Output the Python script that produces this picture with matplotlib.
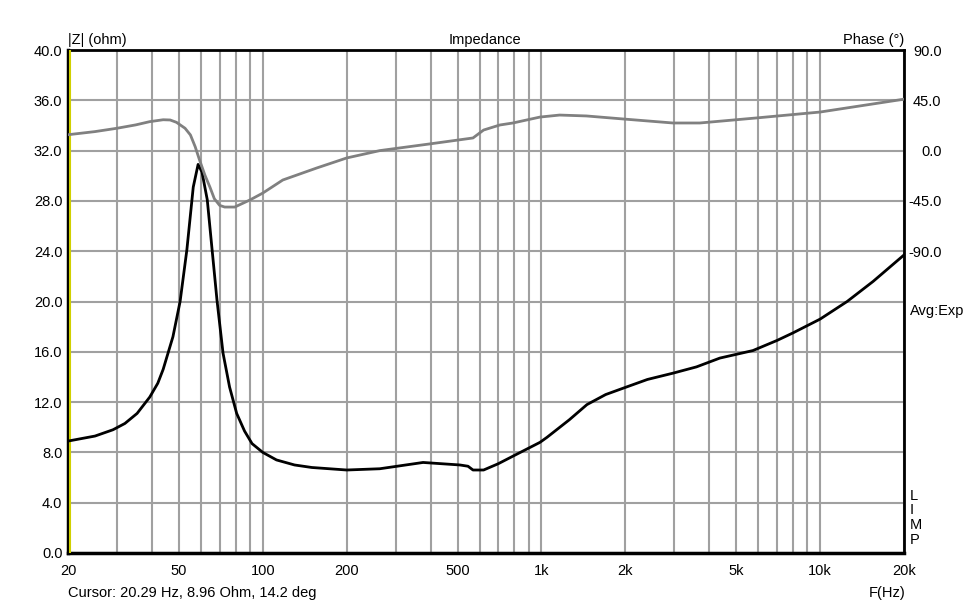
import numpy as np
import matplotlib
matplotlib.use("Agg")
import matplotlib.pyplot as plt

# ---- data ----
imp_freq = [20, 25, 29, 32, 35.4, 39.3, 42, 43.9, 47.6, 50.5, 53.4, 56.3, 58.6, 60.5,
            63.2, 68.5, 72, 76, 80.6, 86, 91.5, 100, 112, 130, 150, 200, 263, 376,
            510, 545, 568, 620, 700, 790, 988, 1047, 1260, 1456, 1700, 1961, 2400,
            2964, 3600, 4366, 5741, 7000, 7987, 10000, 12500, 15500, 20000]
imp_ohm = [8.9, 9.3, 9.8, 10.3, 11.1, 12.4, 13.5, 14.6, 17.2, 20.0, 24.1, 29.1, 30.9,
           30.3, 28.1, 20.1, 15.9, 13.2, 11.1, 9.7, 8.7, 8.0, 7.4, 7.0, 6.8, 6.6, 6.7,
           7.2, 7.0, 6.9, 6.6, 6.6, 7.1, 7.7, 8.8, 9.2, 10.6, 11.8, 12.6, 13.1, 13.8,
           14.3, 14.8, 15.5, 16.1, 16.9, 17.5, 18.6, 20.0, 21.6, 23.7]

ph_freq = [20, 25, 30, 35, 39.3, 43.9, 46.5, 49, 52.6, 55, 57.2, 59.3, 62, 64.6, 67,
           70, 73, 79.3, 85, 90.2, 100, 118, 156, 200, 263, 398, 568, 620, 709, 790,
           988, 1162, 1450, 1961, 2964, 3700, 5900, 10000, 20000]
ph_deg = [14.2, 17.0, 20.0, 23.0, 25.9, 27.6, 27.4, 25.3, 20.0, 14.0, 3.5, -8.4, -22.0,
          -32.6, -43.0, -49.0, -50.5, -50.5, -47.0, -44.0, -38.0, -26.3, -15.6, -6.6,
          0.0, 6.0, 11.3, 18.4, 22.9, 24.7, 30.0, 31.8, 31.0, 28.3, 24.7, 24.7, 29.2,
          34.5, 46.0]

x_grid = [20, 30, 40, 50, 60, 70, 80, 90, 100, 200, 300, 400, 500, 600, 700, 800,
          900, 1000, 2000, 3000, 4000, 5000, 6000, 7000, 8000, 9000, 10000, 20000]
x_labels = {20: "20", 50: "50", 100: "100", 200: "200", 500: "500", 1000: "1k",
            2000: "2k", 5000: "5k", 10000: "10k", 20000: "20k"}
z_ticks = [0, 4, 8, 12, 16, 20, 24, 28, 32, 36, 40]
ph_ticks = [90, 45, 0, -45, -90]
cursor_f = 20.29

plt.rcParams['font.family'] = ['Liberation Sans', 'DejaVu Sans']
FS = 10.5

W, H = 972, 605
fig = plt.figure(figsize=(W / 100, H / 100), dpi=100)
fig.patch.set_facecolor('white')
L, R, T, B = 68, 904, 50, 553
ax = fig.add_axes([L / W, 1 - B / H, (R - L) / W, (B - T) / H])
ax.set_xscale('log')
ax.set_xlim(20, 20000)
ax.set_ylim(0, 40)

ax.set_xticks(x_grid)
ax.set_xticklabels([x_labels.get(f, "") for f in x_grid], fontsize=FS)
ax.xaxis.set_minor_locator(matplotlib.ticker.NullLocator())
ax.set_yticks(z_ticks)
ax.set_yticklabels([f"{v:.1f}" for v in z_ticks], fontsize=FS)
ax.tick_params(axis='both', length=0)
ax.tick_params(axis='x', pad=8)
ax.tick_params(axis='y', pad=4)
ax.grid(True, color='#a0a0a0', linewidth=1.5)
ax.set_axisbelow(True)
for s in ax.spines.values():
    s.set_color('black')
    s.set_linewidth(2)
ax.spines['left'].set_linewidth(2.5)
ax.spines['bottom'].set_linewidth(2.5)

ax.axvline(cursor_f, color='#d0d000', linewidth=1.5, zorder=3)

ax2 = ax.twinx()
ax2.set_ylim(-360, 90)
ax2.set_yticks(ph_ticks)
ax2.set_yticklabels([f"{v:.1f}" for v in ph_ticks], fontsize=FS)
ax2.tick_params(axis='y', length=0, pad=27)
for lab in ax2.get_yticklabels():
    lab.set_horizontalalignment('right')
for s in ax2.spines.values():
    s.set_visible(False)

ax2.plot(ph_freq, ph_deg, color='#808080', linewidth=2, zorder=4)
ax.plot(imp_freq, imp_ohm, color='black', linewidth=2, zorder=5)
ax2.set_zorder(ax.get_zorder() + 1)
ax2.patch.set_visible(False)

def px(x, y):
    return x / W, 1 - y / H

fig.text(*px(68, 40), "|Z| (ohm)", fontsize=FS, ha='left', va='center')
fig.text(*px(485, 40), "Impedance", fontsize=FS, ha='center', va='center')
fig.text(*px(904, 40), "Phase (°)", fontsize=FS, ha='right', va='center')
fig.text(*px(910, 311), "Avg:Exp", fontsize=FS, ha='left', va='center')
for i, ch in enumerate("LIMP"):
    fig.text(*px(910, 496 + i * 14.5), ch, fontsize=FS, ha='left', va='center')
fig.text(*px(68, 593), "Cursor: 20.29 Hz, 8.96 Ohm, 14.2 deg", fontsize=FS,
         ha='left', va='center')
fig.text(*px(887, 593), "F(Hz)", fontsize=FS, ha='center', va='center')

fig.savefig("out.png", dpi=100)
